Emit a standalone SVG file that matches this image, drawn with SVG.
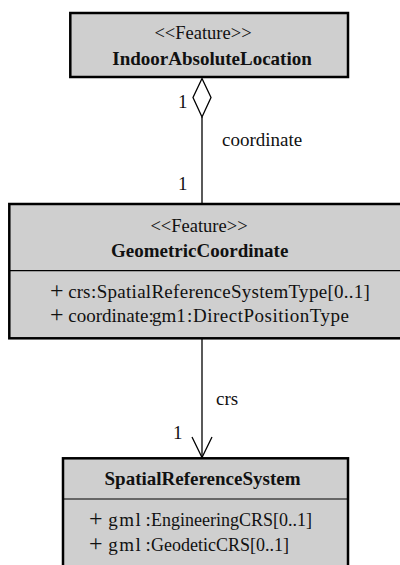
<svg xmlns="http://www.w3.org/2000/svg" width="400" height="565" viewBox="0 0 400 565">
  <style>
    svg text, svg tspan { font-family: "Liberation Serif", "Times New Roman", serif !important; }
    .box { fill: #cfcfcf; stroke: #000; stroke-width: 2.5; }
    .sep { stroke: #000; stroke-width: 1.2; }
    .edge { stroke: #000; stroke-width: 1.3; fill: none; }
    .st { font-size: 18.5px; text-anchor: middle; fill: #111; }
    .nm { font-size: 19px; font-weight: bold; text-anchor: middle; fill: #111; }
    .at { font-size: 19px; fill: #111; }
    .at2 { font-size: 18px; }
    .pl { font-size: 24px; }
    .lb { font-size: 19px; fill: #111; }
  </style>
  <rect width="400" height="565" fill="#fff"/>

  <g id="connectors">
    <!-- aggregation: IndoorAbsoluteLocation <>— GeometricCoordinate -->
    <path class="edge" d="M202,78.5 L211,97.5 L202,117 L193,97.5 Z" fill="#fff"/>
    <line class="edge" x1="202" y1="117" x2="202" y2="203"/>
    <text class="lb" style="font-family:'Liberation Serif',serif" x="178" y="108">1</text>
    <text class="lb" style="font-family:'Liberation Serif',serif" x="222" y="146">coordinate</text>
    <text class="lb" style="font-family:'Liberation Serif',serif" x="178" y="190">1</text>
    <!-- association: GeometricCoordinate —> SpatialReferenceSystem -->
    <line class="edge" x1="202" y1="339" x2="202" y2="457"/>
    <polyline class="edge" points="192,437 202,457.5 212,437"/>
    <text class="lb" style="font-family:'Liberation Serif',serif" x="216" y="405">crs</text>
    <text class="lb" style="font-family:'Liberation Serif',serif" x="173" y="439">1</text>
  </g>

  <g id="IndoorAbsoluteLocation">
    <rect class="box" x="70.3" y="13" width="277.7" height="64"/>
    <text class="st" style="font-family:'Liberation Serif',serif" x="203" y="39">&lt;&lt;Feature&gt;&gt;</text>
    <text class="nm" style="font-family:'Liberation Serif',serif" x="212" y="65">IndoorAbsoluteLocation</text>
  </g>

  <g id="GeometricCoordinate">
    <rect class="box" x="9.3" y="204" width="400" height="134.3"/>
    <line class="sep" x1="9.3" y1="270.7" x2="400" y2="270.7"/>
    <text class="st" style="font-family:'Liberation Serif',serif" x="199" y="232">&lt;&lt;Feature&gt;&gt;</text>
    <text class="nm" style="font-family:'Liberation Serif',serif" x="199.7" y="257">GeometricCoordinate</text>
    <text class="at" style="font-family:'Liberation Serif',serif" y="298.3"><tspan class="pl" x="50">+</tspan><tspan x="68.3">crs</tspan><tspan x="91">:</tspan><tspan x="96.7" letter-spacing="0.28">SpatialReferenceSystemType[0..1]</tspan></text>
    <text class="at" style="font-family:'Liberation Serif',serif" y="321.7"><tspan class="pl" x="50">+</tspan><tspan x="68.3">coordinate</tspan><tspan x="148.5">:</tspan><tspan x="152">gm1</tspan><tspan x="187">:</tspan><tspan x="193" letter-spacing="0.5">DirectPositionType</tspan></text>
  </g>

  <g id="SpatialReferenceSystem">
    <rect class="box" x="63" y="458.3" width="285" height="120"/>
    <line class="sep" x1="63" y1="499" x2="348" y2="499"/>
    <text class="nm" style="font-family:'Liberation Serif',serif" x="202.5" y="485">SpatialReferenceSystem</text>
    <text class="at" style="font-family:'Liberation Serif',serif" y="526.3"><tspan class="pl" x="89">+</tspan><tspan x="108.3" letter-spacing="1.5">gml</tspan><tspan x="145.5">:</tspan><tspan class="at2" x="151">EngineeringCRS[0..1]</tspan></text>
    <text class="at" style="font-family:'Liberation Serif',serif" y="550.7"><tspan class="pl" x="89">+</tspan><tspan x="108.3" letter-spacing="1.5">gml</tspan><tspan x="145.5">:</tspan><tspan class="at2" x="151">GeodeticCRS[0..1]</tspan></text>
  </g>
</svg>
